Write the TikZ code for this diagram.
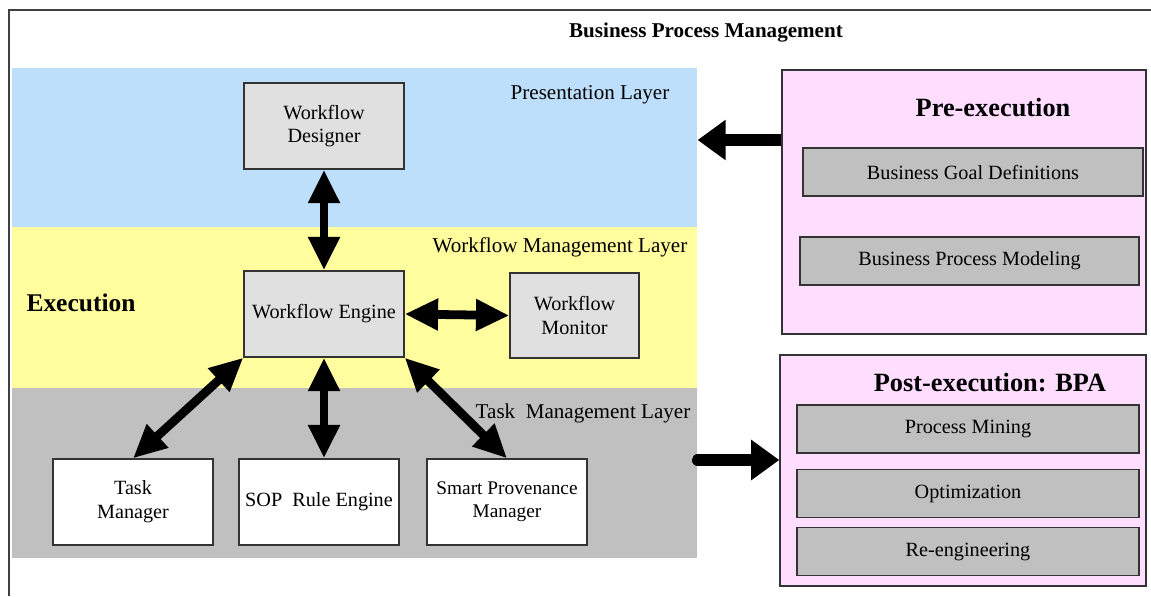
\documentclass[tikz,border=0pt]{standalone}
\usepackage{fontspec}
\setmainfont{Liberation Serif}
\usetikzlibrary{arrows.meta}
\definecolor{presblue}{RGB}{190,223,252}
\definecolor{flowyellow}{RGB}{255,253,158}
\definecolor{taskgray}{RGB}{192,192,192}
\definecolor{boxgray}{RGB}{224,224,224}
\definecolor{phasepink}{RGB}{255,221,255}

\begin{document}
\begin{tikzpicture}[x = 0.02cm, y = -0.02cm,
		layer/.style = {anchor = north west, inner sep = 0pt, minimum width = 13.7cm},
		unit/.style = {draw = black!80, line width = 0.8pt, align = center, minimum width = 3.2cm, minimum height = 1.72cm, font = \fontsize{11.5}{13.5}\selectfont},
		item/.style = {draw = black!80, line width = 0.8pt, fill = taskgray, minimum height = 0.96cm, font = \fontsize{11.5}{13.5}\selectfont},
		phase/.style = {draw = black!80, line width = 0.8pt, fill = phasepink},
		caption/.style = {font = \fontsize{12}{14}\selectfont},
		fatboth/.style = {line width = 5pt, {Triangle[width = 17pt, length = 19pt]}-{Triangle[width = 17pt, length = 19pt]}},
		fat/.style = {line width = 6.5pt, -{Triangle[width = 22pt, length = 16pt]}}]
		\useasboundingbox (0,0) rectangle (1151,596);
		% Frame
		\draw[line width = 1.2pt, black!75] (9,596) -- (9,10) -- (1151,10);
		\node[font = \fontsize{12}{14}\selectfont\bfseries] (title) at (706,33) {Business Process Management};
		% Layers
		\node[layer, fill = presblue, minimum height = 3.18cm] (pres) at (12,68) {};       % presentation
		\node[layer, fill = flowyellow, minimum height = 3.22cm] (flow) at (12,227) {};    % workflow management
		\node[layer, fill = taskgray, minimum height = 3.4cm] (tasks) at (12,388) {};      % task management
		\node[caption] (presLbl) at (590,95) {Presentation Layer};
		\node[caption] (flowLbl) at (560,247) {Workflow Management Layer};
		\node[caption] (taskLbl) at (583,413) {Task\ \ Management Layer};
		\node[font = \fontsize{14.5}{16}\selectfont\bfseries] (execLbl) at (81,303) {Execution};
		% Workflow units
		\node[unit, fill = boxgray] (designer) at (324,126) {Workflow\\Designer};
		\node[unit, fill = boxgray] (engine) at (324,314) {Workflow Engine};
		\node[unit, fill = boxgray, minimum width = 2.58cm, minimum height = 1.7cm] (monitor) at (574.5,315.5) {Workflow\\Monitor};
		\node[unit, fill = white] (task) at (133,502) {Task\\Manager};
		\node[unit, fill = white] (sop) at (319,502) {SOP\ \ Rule Engine};
		\node[unit, fill = white, font = \fontsize{11}{13}\selectfont] (smart) at (507,502) {Smart Provenance\\Manager};
		% Phases
		\node[phase, minimum width = 7.28cm, minimum height = 5.28cm] (pre) at (964,202) {};
		\node[phase, minimum width = 7.32cm, minimum height = 4.62cm] (post) at (963,470.5) {};
		\node[font = \fontsize{15}{17}\selectfont\bfseries] (preLbl) at (993,108) {Pre-execution};
		\node[font = \fontsize{15}{17}\selectfont\bfseries] (postLbl) at (990,383) {Post-execution: BPA};
		\node[item, minimum width = 6.8cm] (goal) at (973,172) {Business Goal Definitions};
		\node[item, minimum width = 6.78cm] (model) at (969.5,261) {Business Process Modeling};
		\node[item, minimum width = 6.84cm] (mining) at (968,429) {Process Mining};
		\node[item, minimum width = 6.84cm] (optim) at (968,493.5) {Optimization};
		\node[item, minimum width = 6.84cm] (reeng) at (968,551.5) {Re-engineering};
		% Arrows
		\draw[fatboth] (designer.south) -- (engine.north);
		\draw[fatboth] (engine.east) -- (monitor.west);
		\draw[fatboth] (engine.south west) -- (task.north);
		\draw[fatboth] (engine.south) -- (engine.south |- sop.north);
		\draw[fatboth] (engine.south east) -- (smart.north);
		\draw[fat] (pre.west |- 0,140) -- (pres.east |- 0,140);                      % into presentation
		\draw[fat, line cap = round] (tasks.east |- 0,460) -- (post.west |- 0,460);  % out to analysis
	\end{tikzpicture}
\end{document}
